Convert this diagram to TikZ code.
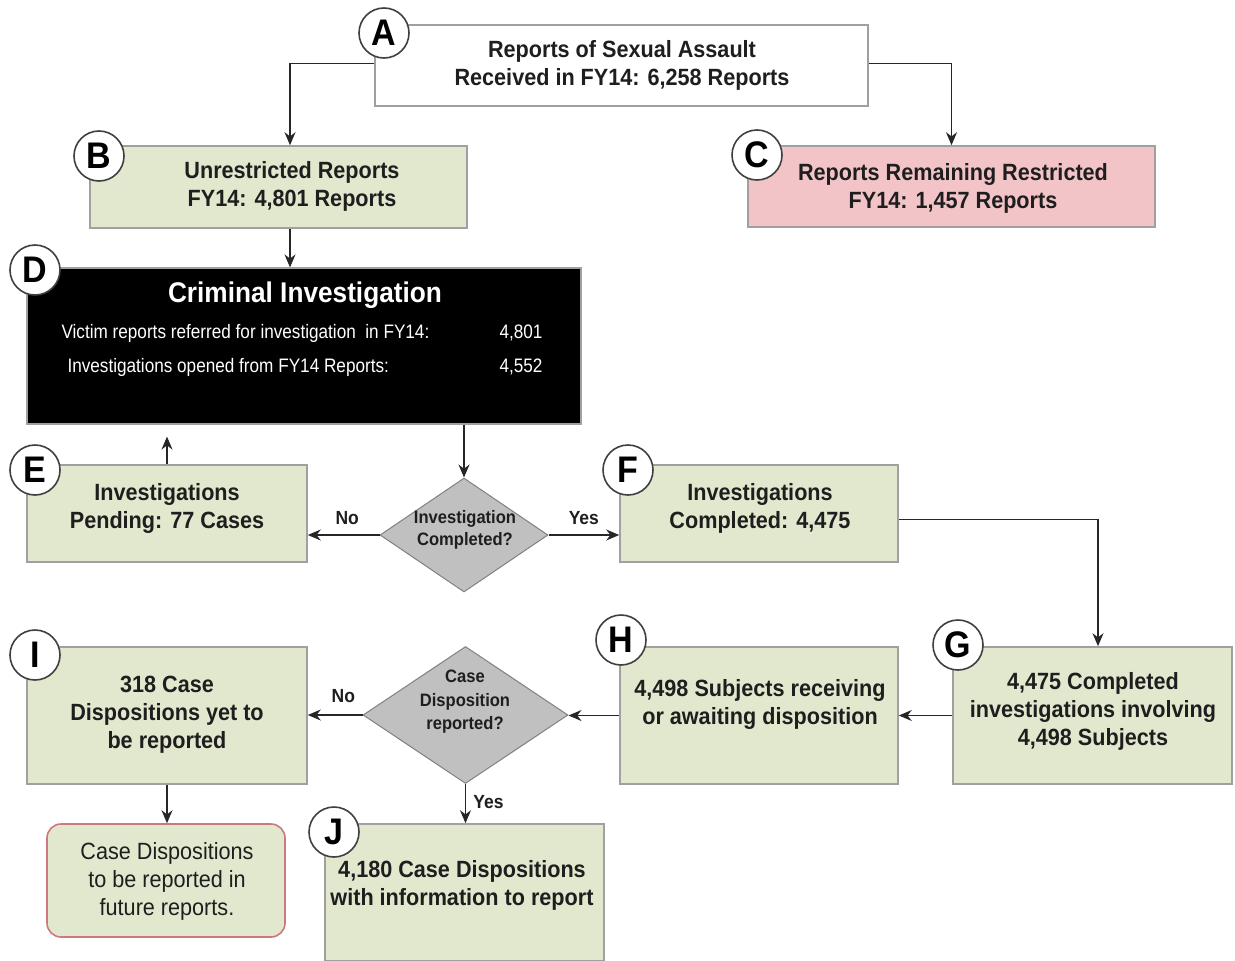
\documentclass[tikz,border=0pt]{standalone}
\usepackage{fontspec}
\setmainfont{Liberation Sans}[FakeStretch=0.92]
\newfontfamily\narrowfont{Liberation Sans}[FakeStretch=0.88]
\usetikzlibrary{shapes.geometric,arrows.meta,calc}
\definecolor{boxgreen}{RGB}{226,232,206}
\definecolor{boxpink}{RGB}{242,196,200}
\definecolor{bordergray}{RGB}{160,160,160}
\definecolor{diagray}{RGB}{192,192,192}
\definecolor{txt}{RGB}{30,30,30}
\definecolor{redborder}{RGB}{205,120,125}
\tikzset{
  base/.style={draw=bordergray,line width=1.6pt,inner sep=0pt},
  gbox/.style={base,fill=boxgreen},
  pbox/.style={base,fill=boxpink},
  wbox/.style={base,fill=white},
  btext/.style={align=center,text=txt,inner sep=0pt,yshift=-2pt,font=\bfseries\fontsize{23.5}{28}\selectfont},
  dbox/.style={draw=bordergray,line width=1.2pt,fill=black,inner sep=0pt},
  dia/.style={diamond,draw=gray,line width=1pt,fill=diagray,inner sep=0pt},
  diatext/.style={align=center,text=txt,inner sep=0pt,font=\fontsize{18}{22}\selectfont\bfseries},
  letter/.style={circle,draw=black!75,line width=1.6pt,fill=white,minimum size=50pt,inner sep=0pt,font=\bfseries\fontsize{37}{37}\selectfont},
  arr/.style={draw=black!85,line width=1.3pt,-{Stealth[length=13pt,width=11pt]}},
  lab/.style={text=txt,font=\fontsize{19}{19}\selectfont\bfseries},
  dline/.style={text=white,font=\narrowfont\fontsize{19.5}{20}\selectfont},
}
\begin{document}
\begin{tikzpicture}[x=1pt,y=-1pt]
\useasboundingbox (0,0) rectangle (1235,961);
% boxes
\node[wbox,minimum width=493,minimum height=81] (A) at (621.5,65.5) {};
\node[btext] (At) at (622,63.5) {Reports of Sexual Assault\\Received in FY14: 6,258 Reports};
\node[gbox,minimum width=377,minimum height=82] (B) at (278.5,187) {};
\node[btext] (Bt) at (292,184) {Unrestricted Reports\\FY14: 4,801 Reports};
\node[pbox,minimum width=407,minimum height=81] (C) at (951.5,186.5) {};
\node[btext] (Ct) at (953,186) {Reports Remaining Restricted\\FY14: 1,457 Reports};
\node[dbox,minimum width=554,minimum height=156] (D) at (304,346) {};
\node[text=white,font=\bfseries\fontsize{28.5}{32}\selectfont] (Dt) at (305,295) {Criminal Investigation};
\node[dline,anchor=west] (D1) at (58,333) {Victim reports referred for investigation\ \ in FY14:};
\node[dline,anchor=east] (D1n) at (546,333) {4,801};
\node[dline,anchor=west] (D2) at (64,367) {Investigations opened from FY14 Reports:};
\node[dline,anchor=east] (D2n) at (546,367) {4,552};
\node[gbox,minimum width=280,minimum height=97] (E) at (167,513.5) {};
\node[btext] (Et) at (167,506) {Investigations\\Pending: 77 Cases};
\node[gbox,minimum width=278,minimum height=97] (F) at (759,513.5) {};
\node[btext] (Ft) at (760,506) {Investigations\\Completed: 4,475};
\node[gbox,minimum width=279,minimum height=137] (G) at (1092.5,715.5) {};
\node[btext] (Gt) at (1093,709) {4,475 Completed\\investigations involving\\4,498 Subjects};
\node[gbox,minimum width=278,minimum height=137] (H) at (759,715.5) {};
\node[btext] (Ht) at (760,702.5) {4,498 Subjects receiving\\or awaiting disposition};
\node[gbox,minimum width=280,minimum height=137] (I) at (167,715.5) {};
\node[btext] (It) at (167,713) {318 Case\\Dispositions yet to\\be reported};
\node[gbox,minimum width=279,minimum height=137] (J) at (464.5,892.5) {};
\node[btext] (Jt) at (462,883) {4,180 Case Dispositions\\with information to report};
\node[gbox,draw=redborder,rounded corners=14pt,minimum width=238,minimum height=113] (R) at (166,880.5) {};
\node[btext,font=\fontsize{23.5}{28}\selectfont] (Rt) at (167,879) {Case Dispositions\\to be reported in\\future reports.};
% diamonds
\node[dia,minimum width=168,minimum height=114] (d1) at (464,535) {};
\node[diatext] (d1t) at (465,530) {Investigation\\Completed?};
\node[dia,minimum width=205,minimum height=137] (d2) at (465.5,715) {};
\node[diatext,font=\fontsize{18}{23.5}\selectfont\bfseries] (d2t) at (465,702) {Case\\Disposition\\reported?};
% letters
\node[letter] (cA) at (384,33) {A};
\node[letter] (cB) at (99,156) {B};
\node[letter] (cC) at (757,155) {C};
\node[letter] (cD) at (35,270) {D};
\node[letter] (cE) at (35,470) {E};
\node[letter] (cF) at (628,470) {F};
\node[letter] (cG) at (958,645) {G};
\node[letter] (cH) at (621,640) {H};
\node[letter] (cI) at (35,655) {I};
\node[letter] (cJ) at (334,832) {J};
% connectors
\draw[arr] ([yshift=2pt]A.west) -| ([xshift=11.5pt]B.north);
\draw[arr] ([yshift=2pt]A.east) -| (C.north);
\draw[arr] ([xshift=11.5pt]B.south) -- ([xshift=11.5pt]B.south |- D.north);
\draw[arr] (d1.north |- D.south) -- (d1.north);
\draw[arr,shorten >=12pt] (E.north) -- (E.north |- D.south);
\draw[arr] (d1.west) -- (d1.west -| E.east) node[lab,pos=0.45,above=6pt] (no1) {No};
\draw[arr] (d1.east) -- (d1.east -| F.west) node[lab,pos=0.5,above=6pt] (yes1) {Yes};
\draw[arr] ([yshift=-6pt]F.east) -| ([xshift=5.5pt]G.north);
\draw[arr] (G.west) -- (G.west -| H.east);
\draw[arr] (H.west) -- (H.west -| d2.east);
\draw[arr] (d2.west) -- (d2.west -| I.east) node[lab,pos=0.35,above=8pt] (no2) {No};
\draw[arr] (d2.south) -- (d2.south |- J.north) node[lab,pos=0.45,right=4pt] (yes2) {Yes};
\draw[arr] (I.south) -- (I.south |- R.north);
\end{tikzpicture}
\end{document}
